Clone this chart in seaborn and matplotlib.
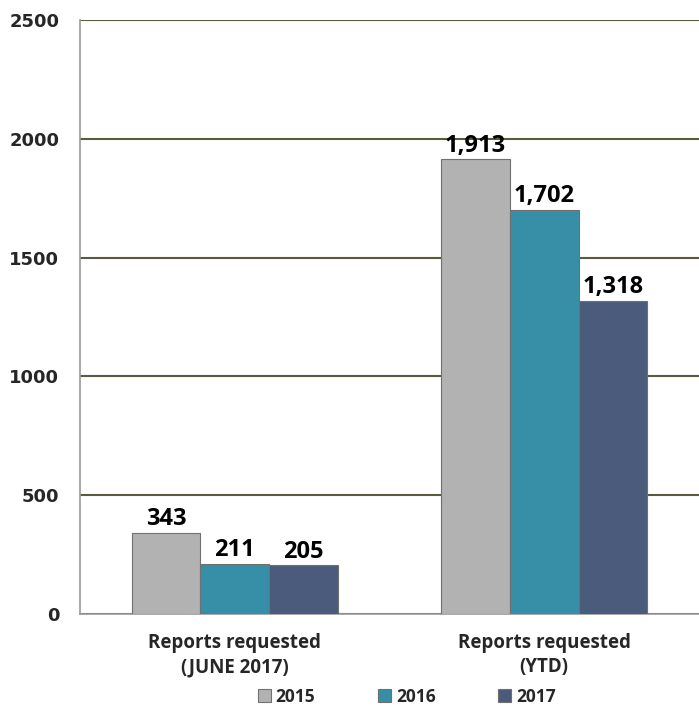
import pandas as pd
import matplotlib.pyplot as plt
import seaborn as sns

categories = ["Reports requested\n(JUNE 2017)", "Reports requested\n(YTD)"]
years = ["2015", "2016", "2017"]
values_2015 = [343, 1913]
values_2016 = [211, 1702]
values_2017 = [205, 1318]
colors = ["#b2b2b2", "#368fa6", "#4a5b7c"]

# Long-form table for seaborn
rows = []
for year, vals in zip(years, [values_2015, values_2016, values_2017]):
    for cat, v in zip(categories, vals):
        rows.append({"category": cat, "year": year, "value": v})
df = pd.DataFrame(rows)

sns.set_theme(style="white")
plt.rcParams["font.family"] = ["Open Sans", "DejaVu Sans"]

fig = plt.figure(figsize=(6.99, 7.06), dpi=100)
ax = fig.add_axes([0.1144, 0.1303, 0.8856, 0.8414])

sns.barplot(
    data=df, x="category", y="value", hue="year",
    palette=colors, saturation=1, width=0.667, ax=ax, zorder=3,
    edgecolor="#707070", linewidth=0.8,
)

# Data labels
for container in ax.containers:
    ax.bar_label(
        container,
        labels=[f"{int(b.get_height()):,}" for b in container],
        padding=1, fontsize=17, fontweight="bold", color="black",
    )

ax.set_ylim(0, 2500)
ax.set_xlim(-0.5, 1.5)
ax.set_yticks([0, 500, 1000, 1500, 2000, 2500])
ax.set_yticklabels(["0", "500", "1000", "1500", "2000", "2500"],
                   fontsize=13, fontweight="bold", family="DejaVu Sans")
ax.yaxis.grid(True, color="#5c5a3e", linewidth=1.5, zorder=0)
ax.set_axisbelow(True)

ax.set_xlabel("")
ax.set_ylabel("")
ax.tick_params(axis="x", length=0, labelsize=13.5, pad=14)
for lbl in ax.get_xticklabels():
    lbl.set_fontweight("bold")
    lbl.set_linespacing(1.25)
ax.set_xticks([-0.5, 0.5, 1.5], minor=True)
ax.tick_params(axis="x", which="minor", length=7, color="#9a9a9a", width=1, direction="out")
ax.tick_params(axis="y", length=7, color="#9a9a9a", width=1, direction="out", pad=8)

for side in ["top", "right"]:
    ax.spines[side].set_visible(False)
for side in ["left", "bottom"]:
    ax.spines[side].set_color("#9a9a9a")
    ax.spines[side].set_linewidth(1.2)

ax.legend(
    loc="upper center", bbox_to_anchor=(0.528, -0.098), ncol=3, frameon=False,
    prop={"weight": "bold", "size": 12.5}, handlelength=0.75, handleheight=0.75,
    handletextpad=0.3, columnspacing=3.6,
)

plt.savefig("out.png", dpi=100)
plt.close()
